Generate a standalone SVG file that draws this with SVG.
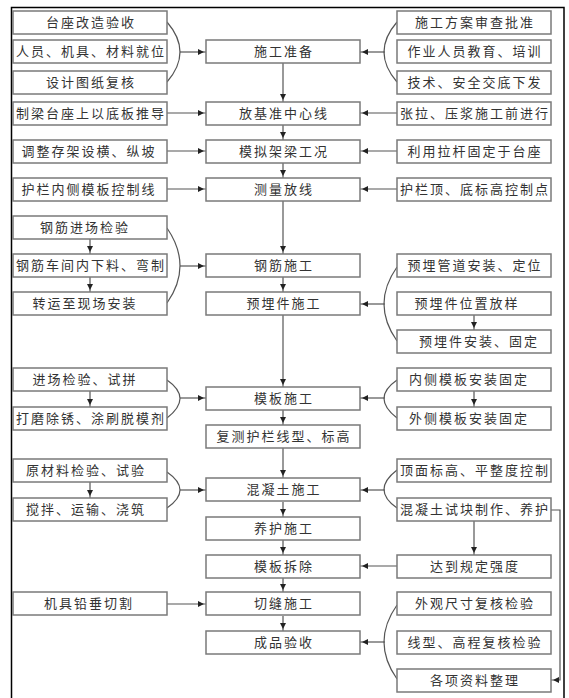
<svg xmlns="http://www.w3.org/2000/svg" width="569" height="698" viewBox="0 0 569 698">
<defs>
<marker id="ah" markerUnits="userSpaceOnUse" markerWidth="10" markerHeight="8" refX="8" refY="3" orient="auto"><path d="M0,0 L6,3 L0,6 z" fill="#222"/></marker>
<style>
.b rect{fill:#fff;stroke:#7a7a7a;stroke-width:1.5}
.b text{font-family:"Noto Sans CJK SC","Noto Sans CJK JP",sans-serif;font-size:13px;fill:#333;letter-spacing:2px;text-anchor:middle}
.c path{fill:none;stroke:#555;stroke-width:1.2}
.c .a{marker-end:url(#ah)}
</style>
</defs>
<rect width="569" height="698" fill="#fff"/>
<path d="M11.5,698 V7.5 H564 V698" fill="none" stroke="#000" stroke-width="1.5"/>
<g class="c" id="connectors">
<path d="M167,22 Q193,52 167,82"/>
<path class="a" d="M180,52 H206"/>
<path d="M397,22 Q371,52 397,82"/>
<path class="a" d="M385,52 H360"/>
<path class="a" d="M167,113 H206"/>
<path class="a" d="M397,113 H360"/>
<path class="a" d="M167,151 H206"/>
<path class="a" d="M397,151 H360"/>
<path class="a" d="M167,189 H206"/>
<path class="a" d="M397,189 H360"/>
<path d="M167,228 Q193,266 167,303"/>
<path class="a" d="M180,266 H206"/>
<path class="a" d="M90,239 V254"/>
<path class="a" d="M90,277 V292"/>
<path d="M397,267 Q371,304 397,341"/>
<path class="a" d="M385,304 H360"/>
<path class="a" d="M474,315 V330"/>
<path d="M167,380 Q193,398 167,418"/>
<path class="a" d="M180,398 H206"/>
<path class="a" d="M90,391 V407"/>
<path d="M397,380 Q371,398 397,418"/>
<path class="a" d="M385,398 H360"/>
<path class="a" d="M474,391 V407"/>
<path d="M167,472 Q193,490 167,508"/>
<path class="a" d="M180,490 H206"/>
<path class="a" d="M90,482 V498"/>
<path d="M397,470 Q371,490 397,508"/>
<path class="a" d="M385,490 H360"/>
<path class="a" d="M474,521 V555"/>
<path class="a" d="M551,510 H560 V680 H551"/>
<path class="a" d="M397,566 H360"/>
<path class="a" d="M167,604 H206"/>
<path d="M397,605 Q371,642 397,679"/>
<path class="a" d="M385,642 H360"/>
<path class="a" d="M283,63 V102"/>
<path class="a" d="M283,124 V140"/>
<path class="a" d="M283,163 V178"/>
<path class="a" d="M283,201 V254"/>
<path class="a" d="M283,277 V292"/>
<path class="a" d="M283,315 V387"/>
<path class="a" d="M283,410 V425"/>
<path class="a" d="M283,448 V478"/>
<path class="a" d="M283,502 V517"/>
<path class="a" d="M283,540 V555"/>
<path class="a" d="M283,578 V592"/>
<path class="a" d="M283,616 V631"/>
</g>
<g class="b" id="L1"><rect x="13" y="11" width="154" height="23"/><text x="91" y="27">台座改造验收</text></g>
<g class="b" id="L2"><rect x="13" y="40" width="154" height="23"/><text x="91" y="56">人员、机具、材料就位</text></g>
<g class="b" id="L3"><rect x="13" y="71" width="154" height="23"/><text x="91" y="87">设计图纸复核</text></g>
<g class="b" id="L4"><rect x="13" y="102" width="154" height="23"/><text x="91" y="118">制梁台座上以底板推导</text></g>
<g class="b" id="L5"><rect x="13" y="140" width="154" height="23"/><text x="89" y="156">调整存架设横、纵坡</text></g>
<g class="b" id="L6"><rect x="13" y="178" width="154" height="23"/><text x="89" y="194">护栏内侧模板控制线</text></g>
<g class="b" id="L7"><rect x="13" y="216" width="154" height="23"/><text x="85" y="232">钢筋进场检验</text></g>
<g class="b" id="L8"><rect x="13" y="254" width="154" height="23"/><text x="91" y="270">钢筋车间内下料、弯制</text></g>
<g class="b" id="L9"><rect x="13" y="292" width="154" height="23"/><text x="85" y="308">转运至现场安装</text></g>
<g class="b" id="L10"><rect x="13" y="368" width="154" height="23"/><text x="85" y="384">进场检验、试拼</text></g>
<g class="b" id="L11"><rect x="13" y="407" width="154" height="23"/><text x="91" y="423">打磨除锈、涂刷脱模剂</text></g>
<g class="b" id="L12"><rect x="13" y="459" width="154" height="23"/><text x="86" y="475">原材料检验、试验</text></g>
<g class="b" id="L13"><rect x="13" y="498" width="154" height="23"/><text x="86" y="514">搅拌、运输、浇筑</text></g>
<g class="b" id="L14"><rect x="13" y="592" width="154" height="23"/><text x="89" y="608">机具铅垂切割</text></g>
<g class="b" id="C1"><rect x="206" y="40" width="154" height="23"/><text x="284" y="56">施工准备</text></g>
<g class="b" id="C2"><rect x="206" y="102" width="154" height="23"/><text x="284" y="118">放基准中心线</text></g>
<g class="b" id="C3"><rect x="206" y="140" width="154" height="23"/><text x="284" y="156">模拟架梁工况</text></g>
<g class="b" id="C4"><rect x="206" y="178" width="154" height="23"/><text x="284" y="194">测量放线</text></g>
<g class="b" id="C5"><rect x="206" y="254" width="154" height="23"/><text x="284" y="270">钢筋施工</text></g>
<g class="b" id="C6"><rect x="206" y="292" width="154" height="23"/><text x="284" y="308">预埋件施工</text></g>
<g class="b" id="C7"><rect x="206" y="387" width="154" height="23"/><text x="284" y="403">模板施工</text></g>
<g class="b" id="C8"><rect x="206" y="425" width="154" height="23"/><text x="284" y="441">复测护栏线型、标高</text></g>
<g class="b" id="C9"><rect x="206" y="478" width="154" height="23"/><text x="284" y="494">混凝土施工</text></g>
<g class="b" id="C10"><rect x="206" y="517" width="154" height="23"/><text x="284" y="533">养护施工</text></g>
<g class="b" id="C11"><rect x="206" y="555" width="154" height="23"/><text x="284" y="571">模板拆除</text></g>
<g class="b" id="C12"><rect x="206" y="592" width="154" height="23"/><text x="284" y="608">切缝施工</text></g>
<g class="b" id="C13"><rect x="206" y="631" width="154" height="23"/><text x="284" y="647">成品验收</text></g>
<g class="b" id="R1"><rect x="397" y="11" width="154" height="23"/><text x="475" y="27">施工方案审查批准</text></g>
<g class="b" id="R2"><rect x="397" y="40" width="154" height="23"/><text x="475" y="56">作业人员教育、培训</text></g>
<g class="b" id="R3"><rect x="397" y="71" width="154" height="23"/><text x="475" y="87">技术、安全交底下发</text></g>
<g class="b" id="R4"><rect x="397" y="102" width="154" height="23"/><text x="475" y="118">张拉、压浆施工前进行</text></g>
<g class="b" id="R5"><rect x="397" y="140" width="154" height="23"/><text x="475" y="156">利用拉杆固定于台座</text></g>
<g class="b" id="R6"><rect x="397" y="178" width="154" height="23"/><text x="475" y="194">护栏顶、底标高控制点</text></g>
<g class="b" id="R7"><rect x="397" y="254" width="154" height="23"/><text x="475" y="270">预埋管道安装、定位</text></g>
<g class="b" id="R8"><rect x="397" y="292" width="154" height="23"/><text x="467" y="308">预埋件位置放样</text></g>
<g class="b" id="R9"><rect x="397" y="330" width="154" height="23"/><text x="479" y="346">预埋件安装、固定</text></g>
<g class="b" id="R10"><rect x="397" y="368" width="154" height="23"/><text x="469" y="384">内侧模板安装固定</text></g>
<g class="b" id="R11"><rect x="397" y="407" width="154" height="23"/><text x="469" y="423">外侧模板安装固定</text></g>
<g class="b" id="R12"><rect x="397" y="459" width="154" height="23"/><text x="475" y="475">顶面标高、平整度控制</text></g>
<g class="b" id="R13"><rect x="397" y="498" width="154" height="23"/><text x="475" y="514">混凝土试块制作、养护</text></g>
<g class="b" id="R14"><rect x="397" y="555" width="154" height="23"/><text x="475" y="571">达到规定强度</text></g>
<g class="b" id="R15"><rect x="397" y="592" width="154" height="23"/><text x="475" y="608">外观尺寸复核检验</text></g>
<g class="b" id="R16"><rect x="397" y="631" width="154" height="23"/><text x="475" y="647">线型、高程复核检验</text></g>
<g class="b" id="R17"><rect x="397" y="669" width="154" height="23"/><text x="475" y="685">各项资料整理</text></g>
</svg>
